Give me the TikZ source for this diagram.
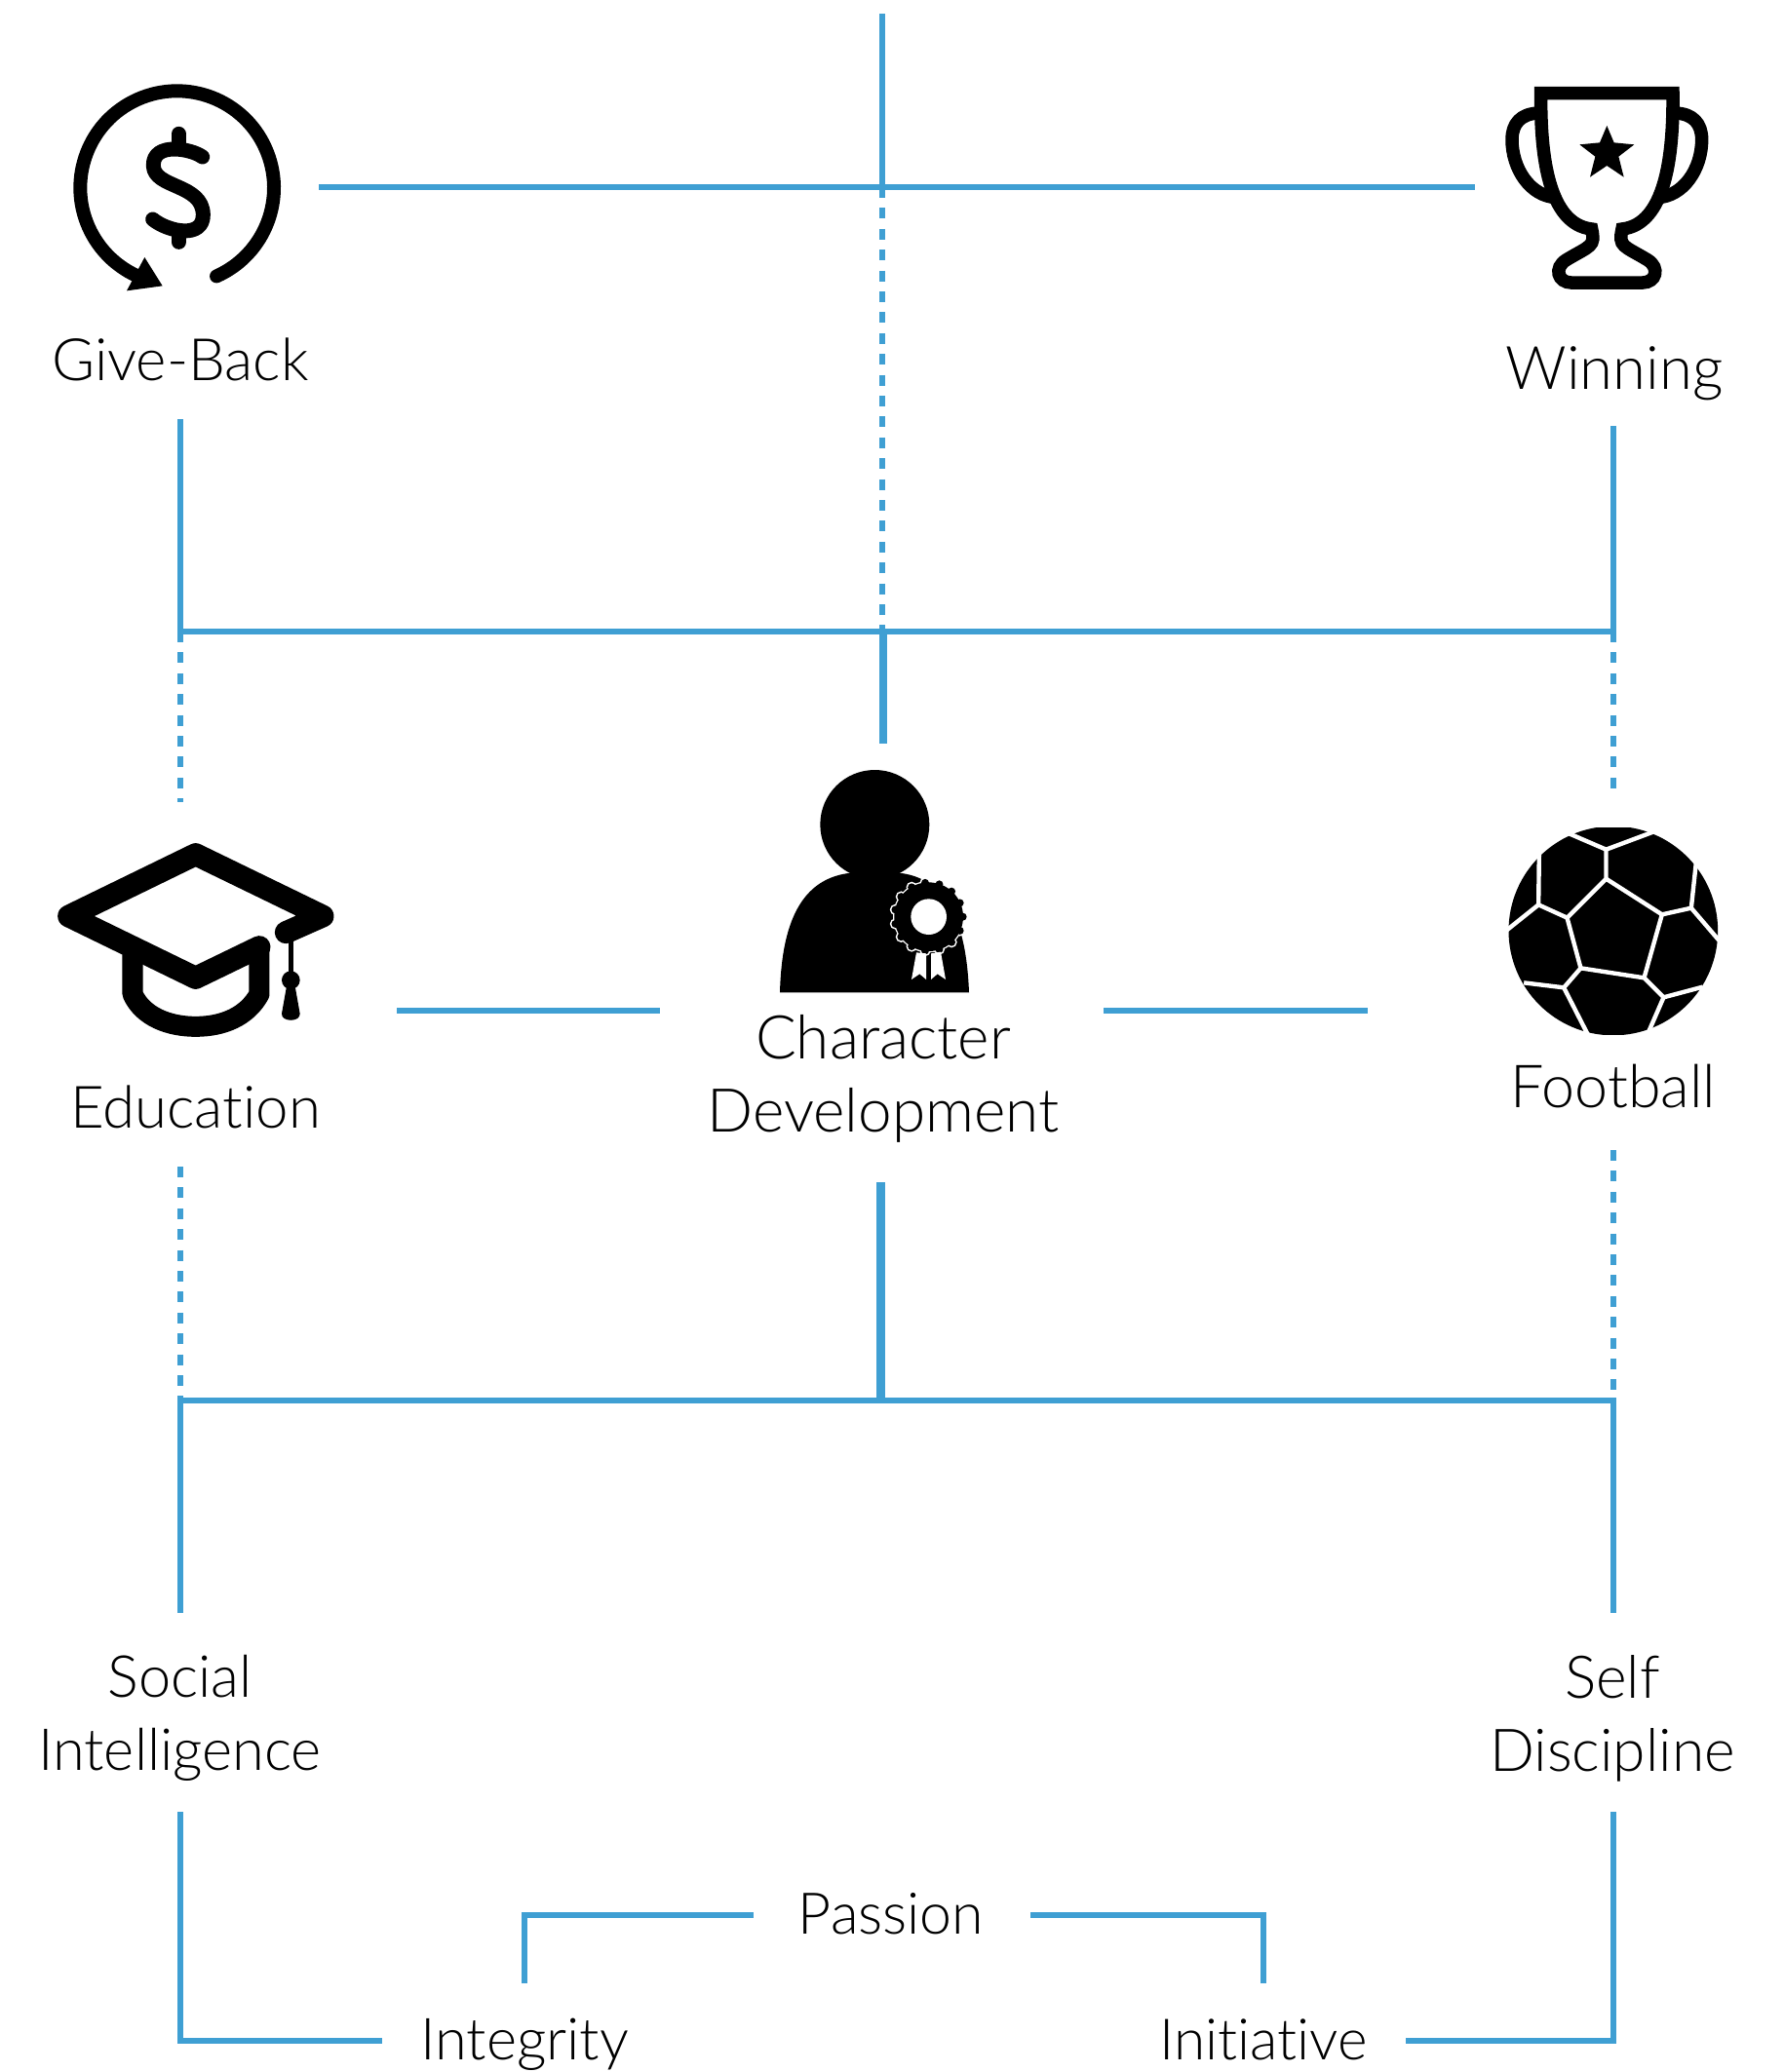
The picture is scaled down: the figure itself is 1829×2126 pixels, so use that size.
\documentclass[tikz,border=0pt]{standalone}
\usepackage{fontspec}
\setmainfont{Lato Light}[Ligatures=NoCommon]
\definecolor{linkblue}{HTML}{3F9FD3}
\tikzset{
  label/.style={font=\fontsize{#1}{75}\selectfont,align=center,inner sep=0pt,text=black},
  link/.style={draw=linkblue,line width=5.6pt},
  thicklink/.style={draw=linkblue,line width=8.2pt},
  dotlink/.style={draw=linkblue,line width=5.4pt,dash pattern=on 11pt off 10.4pt},
  zoomed/.style={x=0.33333pt,y=-0.33333pt},
  ink/.style={draw=black,line cap=round,line join=round}
}
\begin{document}
\begin{tikzpicture}[x=1pt,y=-1pt]
\useasboundingbox (0,0) rectangle (1829,2126);
\clip (0,0) rectangle (1829,2126);
% labels
\node[label=60] (giveback) at (185,369) {Give-Back};
\node[label=61.5] (winning) at (1656,383) {Winning};
\node[label=60] (education) at (200.5,1136) {Education};
\node[label=62] (chardev) at (906,1107) {Character\\Development};
\node[label=61] (football) at (1655,1115) {Football};
\node[label=59.5] (social) at (184.5,1763) {Social\\Intelligence};
\node[label=60.5] (selfd) at (1654,1763) {Self\\Discipline};
\node[label=59] (passion) at (914,1964) {Passion};
\node[label=59.5] (integrity) at (538,2098) {Integrity};
\node[label=58.5] (initiative) at (1296,2093) {Initiative};
% junctions and free ends
\coordinate (topend) at (905,14);
\coordinate (topj) at (905,192);
\coordinate (hl) at (327,192);
\coordinate (hr) at (1513,192);
\coordinate (upl) at (185,430);
\coordinate (upr) at (1655,437);
\coordinate (busAl) at (185,648);
\coordinate (busAr) at (1655,648);
\coordinate (busAc) at (905,648);
\coordinate (busAd) at (906,648);
\coordinate (cUp) at (906,763);
\coordinate (dl) at (185,823);
\coordinate (dr) at (1655,815);
\coordinate (ml1) at (407,1037);
\coordinate (ml2) at (677,1037);
\coordinate (mr1) at (1132,1037);
\coordinate (mr2) at (1403,1037);
\coordinate (d2l) at (185,1197);
\coordinate (d2r) at (1655,1180);
\coordinate (cDn) at (903.5,1213);
\coordinate (busBl) at (185,1437);
\coordinate (busBr) at (1655,1437);
\coordinate (busBc) at (903.5,1437);
\coordinate (sl) at (185,1655);
\coordinate (sr) at (1655,1655);
\coordinate (ll) at (185,1859);
\coordinate (lr) at (1655,1859);
\coordinate (lle) at (392,2094);
\coordinate (lre) at (1442,2094);
\coordinate (pl) at (773,1965);
\coordinate (pr) at (1057,1965);
\coordinate (pld) at (538,2035);
\coordinate (prd) at (1296,2035);
% connectors
\draw[dotlink] (topj) -- (busAc);
\draw[dotlink] (busAl) -- (dl);
\draw[dotlink] (busAr) -- (dr);
\draw[dotlink] (d2l) -- (busBl);
\draw[dotlink] (d2r) -- (busBr);
\draw[link] (topend) -- (topj);
\draw[link] (hl) -- (hr);
\draw[link] (upl) -- (busAl) -- (busAr) -- (upr);
\draw[thicklink] (busAd) -- (cUp);
\draw[link] (ml1) -- (ml2);
\draw[link] (mr1) -- (mr2);
\draw[thicklink] (cDn) -- (busBc);
\draw[link] (sl) -- (busBl) -- (busBr) -- (sr);
\draw[link] (ll) |- (lle);
\draw[link] (lr) |- (lre);
\draw[link] (pld) |- (pl);
\draw[link] (prd) |- (pr);
% dollar icon
\begin{scope}[shift={(40,60)},zoomed]
  \draw[ink,line width=14pt] (425,398) ++(66:298) arc[start angle=66,end angle=-245,radius=298];
  \fill[black] (325,612) -- (380,700) -- (270,715) -- cycle;
  \draw[ink,line width=15pt] (503,303) .. controls (470,278) and (350,255) .. (352,330) .. controls (354,400) and (503,385) .. (505,480) .. controls (507,555) and (400,535) .. (350,495);
  \draw[ink,line width=15pt] (430,232) -- (430,265);
  \draw[ink,line width=15pt] (430,535) -- (430,565);
\end{scope}
% trophy icon
\begin{scope}[shift={(1500,60)},zoomed]
  \draw[ink,line width=13.5pt,line join=miter] (242,107) -- (648,107) .. controls (650,300) and (625,510) .. (492,525) .. controls (480,580) and (495,575) .. (570,620) .. controls (610,645) and (595,690) .. (555,690) -- (335,690) .. controls (295,690) and (280,645) .. (320,620) .. controls (395,575) and (410,580) .. (398,525) .. controls (265,510) and (240,300) .. cycle;
  \draw[ink,line width=13.5pt,line cap=butt] (235,168) .. controls (180,170) and (153,200) .. (153,250) .. controls (153,340) and (210,425) .. (290,428);
  \draw[ink,line width=13.5pt,line cap=butt] (655,168) .. controls (710,170) and (737,200) .. (737,250) .. controls (737,340) and (680,425) .. (600,428);
  \fill[black] (445,207) -- (467,259) -- (529,265) -- (481,302) -- (497,365) -- (445,330) -- (393,365) -- (409,302) -- (361,265) -- (423,259) -- cycle;
\end{scope}
% graduation cap icon
\begin{scope}[shift={(30,840)},zoomed]
  \draw[ink,line width=21pt] (318,420) -- (318,540) .. controls (350,610) and (430,640) .. (512,640) .. controls (595,640) and (670,610) .. (708,540) -- (708,395);
  \draw[ink,line width=23pt] (790,350) -- (903,300) -- (512,110) -- (122,300) -- (512,490) -- (708,395);
  \draw[black,line width=5pt] (805,350) -- (805,500);
  \fill[black] (805,497) circle (28);
  \fill[black] (793,510) -- (817,510) -- (833,600) .. controls (835,627) and (775,627) .. (777,600) -- cycle;
\end{scope}
% person icon
\begin{scope}[shift={(770,770)},zoomed]
  \fill[black] (382,228) circle (168);
  \fill[black] (90,745) .. controls (95,560) and (140,400) .. (300,378) -- (465,378) .. controls (620,400) and (665,560) .. (672,745) -- cycle;
  \foreach \a in {0,24,...,336} \fill[white] (548,512) ++(\a:105) circle (17);
  \fill[white] (548,512) circle (110);
  \foreach \a in {0,24,...,336} \fill[black] (548,512) ++(\a:105) circle (12);
  \fill[black] (548,512) circle (106);
  \fill[white] (548,512) circle (55);
  \fill[white] (510,622) -- (495,705) -- (520,688) -- (540,705) -- (540,625) -- cycle;
  \fill[white] (555,625) -- (555,705) -- (575,688) -- (600,705) -- (585,620) -- cycle;
\end{scope}
% football icon
\begin{scope}[shift={(1521.5,830)},zoomed]
  \begin{scope}
    \clip (78,57) rectangle (722,693);
    \fill[black] (400,375) circle (322);
  \end{scope}
  \draw[white,line width=4.4pt,line join=round]
    (378,215) -- (550,325) -- (495,520) -- (300,490) -- (258,335) -- cycle
    (378,215) -- (378,125) (378,125) -- (255,72) (378,125) -- (525,70)
    (258,335) -- (170,295) (170,295) -- (172,135) (170,295) -- (70,375)
    (550,325) -- (640,305) (640,305) -- (655,165) (640,305) -- (730,410)
    (495,520) -- (555,580) (555,580) -- (675,548) (555,580) -- (505,695)
    (300,490) -- (248,550) (248,550) -- (125,535) (248,550) -- (322,695);
\end{scope}
\end{tikzpicture}
\end{document}
